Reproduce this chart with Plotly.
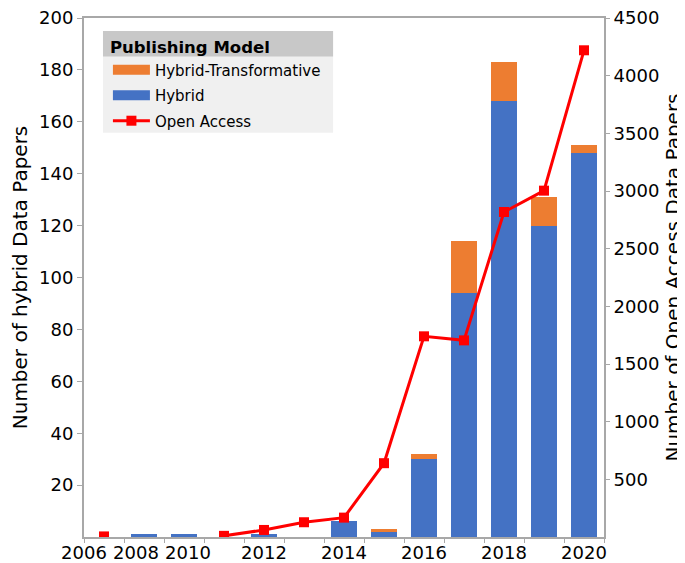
import plotly.graph_objects as go

years = [2008, 2009, 2010, 2011, 2012, 2013, 2014, 2015, 2016, 2017, 2018, 2019, 2020]
hybrid = [0, 1, 1, 0, 1, 0, 6, 2, 30, 94, 168, 120, 148]
hybrid_transformative = [0, 0, 0, 0, 0, 0, 0, 1, 2, 20, 15, 11, 3]
open_access = [5, None, None, 10, 61, 128, 168, 640, 1740, 1705, 2818, 3003, 4220]

x_tick_text = ["2006", "2008", "2010", "2012", "2014", "2016", "2018", "2020"]
x_tick_pos = [2007.5, 2008.8, 2010.1, 2012, 2014, 2016, 2018, 2020]
left_ticks = [20, 40, 60, 80, 100, 120, 140, 160, 180, 200]
right_ticks = [500, 1000, 1500, 2000, 2500, 3000, 3500, 4000, 4500]

BLUE = "#4472C4"
ORANGE = "#ED7D31"
RED = "#FF0000"
AX = "#A8A8A8"
FONT = "DejaVu Sans"

fig = go.Figure()
fig.add_trace(go.Bar(x=years, y=hybrid, name="Hybrid", marker=dict(color=BLUE, line=dict(width=0)),
                     width=0.66, showlegend=False))
fig.add_trace(go.Bar(x=years, y=hybrid_transformative, name="Hybrid-Transformative",
                     marker=dict(color=ORANGE, line=dict(width=0)), width=0.66, showlegend=False))
fig.add_trace(go.Scatter(x=years, y=open_access, name="Open Access", yaxis="y2", mode="lines+markers",
                         line=dict(color=RED, width=3), marker=dict(symbol="square", size=10, color=RED),
                         connectgaps=False, legendgroup="c", legendrank=3))
# legend-only entries (wide swatches like the original legend)
fig.add_trace(go.Scatter(x=[None], y=[None], mode="lines", name="Hybrid-Transformative",
                         line=dict(color=ORANGE, width=10), legendgroup="a", legendrank=1))
fig.add_trace(go.Scatter(x=[None], y=[None], mode="lines", name="Hybrid",
                         line=dict(color=BLUE, width=10), legendgroup="b", legendrank=2))

fig.update_layout(
    width=677, height=555,
    margin=dict(l=76, r=81, t=10, b=26),
    paper_bgcolor="white", plot_bgcolor="white",
    barmode="stack",
    font=dict(family=FONT, size=18, color="black"),
    xaxis=dict(range=[2007.5, 2020.5], tickmode="array", tickvals=x_tick_pos, ticktext=x_tick_text,
               ticks="", showline=True, linecolor=AX, linewidth=2, mirror=True, showgrid=False,
               zeroline=False, tickfont=dict(size=18), automargin=False, ticklabelstandoff=-2,
               ticklabeloverflow="allow",
               minor=dict(tick0=2007.5, dtick=1, ticks="outside", ticklen=4, tickcolor=AX, showgrid=False)),
    yaxis=dict(range=[0, 200], tickmode="array", tickvals=left_ticks, ticks="outside", ticklen=5,
               tickcolor=AX, showline=True, linecolor=AX, linewidth=2, showgrid=False, zeroline=False,
               title=dict(text="Number of hybrid Data Papers", font=dict(size=20), standoff=18),
               tickfont=dict(size=18), automargin=False, ticklabeloverflow="allow"),
    yaxis2=dict(range=[0, 4500], overlaying="y", side="right", tickmode="array", tickvals=right_ticks,
                ticks="outside", ticklen=4, tickcolor=AX, showline=True, linecolor=AX, linewidth=2,
                showgrid=False, zeroline=False,
                title=dict(text="Number of Open Access Data Papers", font=dict(size=20), standoff=8),
                tickfont=dict(size=18), automargin=False, ticklabeloverflow="allow"),
    legend=dict(x=0.046, y=0.973, xanchor="left", yanchor="top", bgcolor="rgba(0,0,0,0)",
                traceorder="grouped", itemwidth=37,
                title=dict(text="<b>Publishing Model</b>", font=dict(size=16.5)),
                font=dict(size=15), tracegroupgap=3),
    shapes=[
        dict(type="rect", xref="paper", yref="paper", x0=0.0365, x1=0.479, y0=0.779, y1=0.975,
             fillcolor="#F0F0F0", line=dict(width=0), layer="above"),
        dict(type="rect", xref="paper", yref="paper", x0=0.0365, x1=0.479, y0=0.926, y1=0.975,
             fillcolor="#C8C8C8", line=dict(width=0), layer="above"),
    ],
)

fig.write_html("out.html")
